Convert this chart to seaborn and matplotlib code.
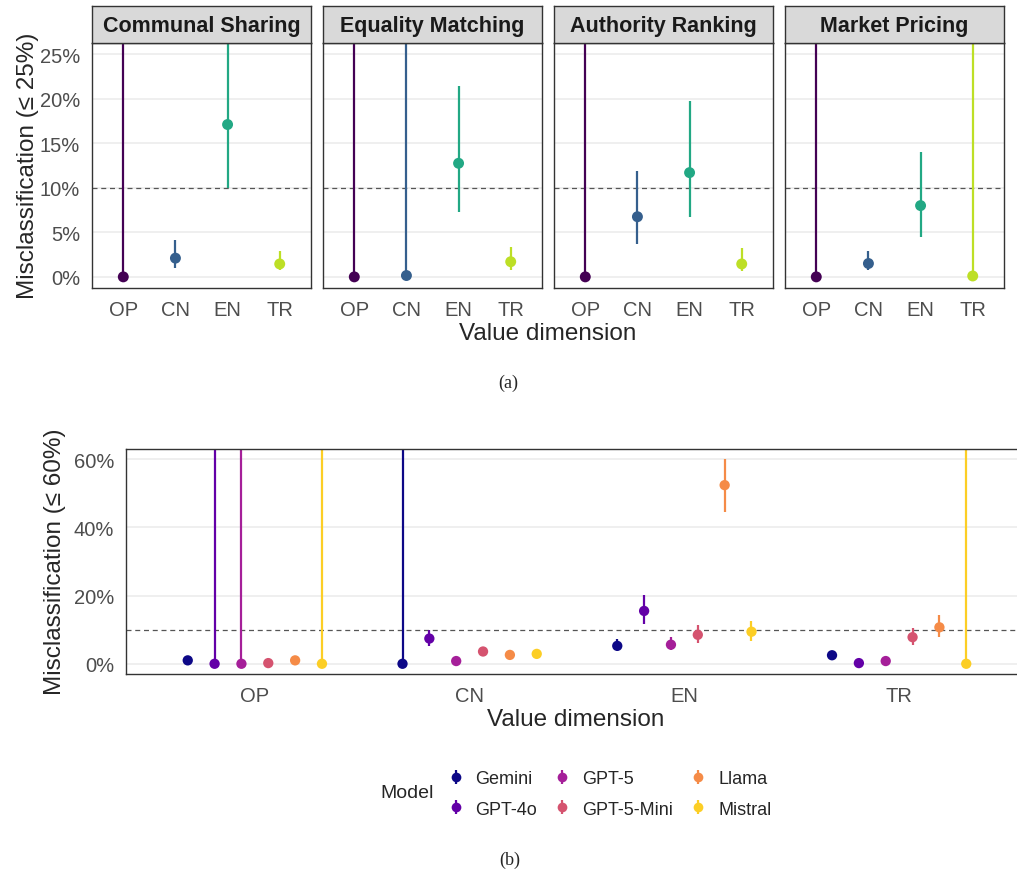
import matplotlib
matplotlib.use("Agg")
import matplotlib.pyplot as plt
from matplotlib.lines import Line2D
import seaborn as sns
import numpy as np
import pandas as pd

# ---- data (percent) ----
dims = ["OP", "CN", "EN", "TR"]
facets = ["Communal Sharing", "Equality Matching", "Authority Ranking", "Market Pricing"]

# upper bound of 100 means the interval runs off the top of the plot
cs_est = [0.0, 2.1, 17.1, 1.45]
cs_lo = [0.0, 1.05, 10.0, 0.75]
cs_hi = [100, 4.15, 100, 2.85]

em_est = [0.0, 0.15, 12.75, 1.7]
em_lo = [0.0, 0.0, 7.3, 0.8]
em_hi = [100, 100, 21.4, 3.4]

ar_est = [0.0, 6.75, 11.7, 1.45]
ar_lo = [0.0, 3.7, 6.7, 0.65]
ar_hi = [100, 11.9, 19.7, 3.2]

mp_est = [0.0, 1.5, 8.0, 0.1]
mp_lo = [0.0, 0.8, 4.5, 0.0]
mp_hi = [100, 2.9, 14.0, 100]

models = ["Gemini", "GPT-4o", "GPT-5", "GPT-5-Mini", "Llama", "Mistral"]
# per model: values for OP, CN, EN, TR
gemini_est = [1.0, 0.0, 5.25, 2.5]
gemini_lo = [0.6, 0.0, 4.4, 2.0]
gemini_hi = [1.4, 100, 7.2, 3.0]
gpt4o_est = [0.0, 7.4, 15.5, 0.2]
gpt4o_lo = [0.0, 5.3, 11.8, 0.0]
gpt4o_hi = [100, 10.0, 20.2, 0.6]
gpt5_est = [0.0, 0.8, 5.6, 0.8]
gpt5_lo = [0.0, 0.4, 4.1, 0.4]
gpt5_hi = [100, 1.2, 7.8, 1.2]
mini_est = [0.2, 3.6, 8.5, 7.8]
mini_lo = [0.0, 3.0, 6.2, 5.5]
mini_hi = [0.6, 4.2, 11.4, 10.4]
llama_est = [1.0, 2.6, 52.4, 10.7]
llama_lo = [0.6, 2.1, 44.6, 8.0]
llama_hi = [1.4, 3.1, 60.2, 14.3]
mistral_est = [0.0, 2.9, 9.4, 0.0]
mistral_lo = [0.0, 2.4, 6.8, 0.0]
mistral_hi = [100, 3.4, 12.6, 100]

top_df = pd.DataFrame({
    "facet": np.repeat(facets, len(dims)),
    "dim": dims * len(facets),
    "est": cs_est + em_est + ar_est + mp_est,
    "lo": cs_lo + em_lo + ar_lo + mp_lo,
    "hi": cs_hi + em_hi + ar_hi + mp_hi,
})
bot_df = pd.DataFrame({
    "model": np.repeat(models, len(dims)),
    "dim": dims * len(models),
    "est": gemini_est + gpt4o_est + gpt5_est + mini_est + llama_est + mistral_est,
    "lo": gemini_lo + gpt4o_lo + gpt5_lo + mini_lo + llama_lo + mistral_lo,
    "hi": gemini_hi + gpt4o_hi + gpt5_hi + mini_hi + llama_hi + mistral_hi,
})

# ---- style ----
sns.set_style("white")
plt.rcParams["font.family"] = ["Liberation Sans", "DejaVu Sans"]

W, H = 1017, 878
fig = plt.figure(figsize=(W / 100, H / 100), dpi=100)


def box(x0, y0, x1, y1):
    return [x0 / W, 1 - y1 / H, (x1 - x0) / W, (y1 - y0) / H]


dim_colors = [plt.cm.viridis(v) for v in np.linspace(0, 0.9, 4)]
model_colors = [plt.cm.plasma(v) for v in np.linspace(0, 0.9, 6)]
dim_pal = dict(zip(dims, dim_colors))
model_pal = dict(zip(models, model_colors))
tick_grey = "#4D4D4D"
border = "#333333"


def style_axis(ax, yticks):
    ax.set_yticks(yticks)
    ax.set_yticklabels([f"{t}%" for t in yticks])
    ax.yaxis.grid(True, color="#EBEBEB", lw=1.1)
    ax.xaxis.grid(False)
    ax.set_axisbelow(True)
    for s in ax.spines.values():
        s.set_color(border)
        s.set_linewidth(1.0)
    ax.tick_params(axis="both", length=3.5, width=1.0, color=border,
                   labelcolor=tick_grey, labelsize=14.5, direction="out")
    ax.tick_params(axis="y", pad=5)
    ax.tick_params(axis="x", pad=5)
    ax.axhline(10, color="#555555", lw=0.9, ls=(0, (4, 3)), zorder=1.5)
    ax.set_xlabel("")
    ax.set_ylabel("")


# ---- (a) faceted panel ----
lefts = [92, 323, 554, 785]
for i, (name, x0) in enumerate(zip(facets, lefts)):
    ax = fig.add_axes(box(x0, 44, x0 + 219, 289))
    sub = top_df[top_df["facet"] == name].reset_index(drop=True)
    xpos = np.arange(len(dims))
    for j, row in sub.iterrows():
        ax.vlines(xpos[j], row["lo"], row["hi"], color=dim_pal[row["dim"]], lw=1.6, zorder=2)
    sns.scatterplot(x=xpos, y=sub["est"], hue=sub["dim"], palette=dim_pal, s=62,
                    edgecolor="none", legend=False, ax=ax, zorder=3)
    ax.set_xlim(-0.6, 3.6)
    ax.set_ylim(-1.25, 26.25)
    ax.set_xticks(xpos)
    ax.set_xticklabels(dims)
    style_axis(ax, [0, 5, 10, 15, 20, 25])
    if i > 0:
        ax.tick_params(axis="y", left=False, labelleft=False)

    sx = fig.add_axes(box(x0, 7, x0 + 219, 44))
    sx.set_facecolor("#D9D9D9")
    sx.set_xticks([])
    sx.set_yticks([])
    for s in sx.spines.values():
        s.set_color(border)
        s.set_linewidth(1.0)
    sx.text(0.5, 0.47, name, ha="center", va="center", fontsize=15.5,
            fontweight="bold", color="#1A1A1A", transform=sx.transAxes)

fig.text(28 / W, 1 - 166 / H, "Misclassification (≤ 25%)", rotation=90,
         ha="center", va="center", fontsize=17.5)
fig.text(548 / W, 1 - 334 / H, "Value dimension", ha="center", va="center", fontsize=17.5)
fig.text(508 / W, 1 - 383 / H, "(a)", ha="center", va="center", fontsize=13,
         family=["Liberation Serif", "DejaVu Serif"])

# ---- (b) dodged panel ----
ax = fig.add_axes(box(126, 450, 1028, 675))
dodge = 0.625
offsets = np.linspace(-dodge / 2, dodge / 2, len(models))
bot_df["x"] = [dims.index(d) + offsets[models.index(m)] for m, d in zip(bot_df["model"], bot_df["dim"])]
for _, row in bot_df.iterrows():
    ax.vlines(row["x"], row["lo"], row["hi"], color=model_pal[row["model"]], lw=1.6, zorder=2)
sns.scatterplot(data=bot_df, x="x", y="est", hue="model", palette=model_pal, s=55,
                edgecolor="none", legend=False, ax=ax, zorder=3)
ax.set_xlim(-0.6, 3.6)
ax.set_ylim(-3, 63)
ax.set_xticks(range(len(dims)))
ax.set_xticklabels(dims)
style_axis(ax, [0, 20, 40, 60])
ax.spines["right"].set_visible(False)

fig.text(55 / W, 1 - 562 / H, "Misclassification (≤ 60%)", rotation=90,
         ha="center", va="center", fontsize=17.5)
fig.text(576 / W, 1 - 720 / H, "Value dimension", ha="center", va="center", fontsize=17.5)

handles = [(Line2D([], [], color=c, marker="|", ms=10, mew=1.6, ls="none"),
            Line2D([], [], color=c, marker="o", ms=7, mec="none", ls="none"))
           for c in model_colors]
fig.legend(handles, models, ncol=3, frameon=False, loc="center",
           bbox_to_anchor=(609 / W, 1 - 795 / H), fontsize=13,
           handlelength=1.0, handletextpad=0.6, columnspacing=0.9, labelspacing=0.75)
fig.text(407 / W, 1 - 794 / H, "Model", ha="center", va="center", fontsize=14)
fig.text(510 / W, 1 - 860 / H, "(b)", ha="center", va="center", fontsize=13,
         family=["Liberation Serif", "DejaVu Serif"])

fig.savefig("out.png", dpi=100)
